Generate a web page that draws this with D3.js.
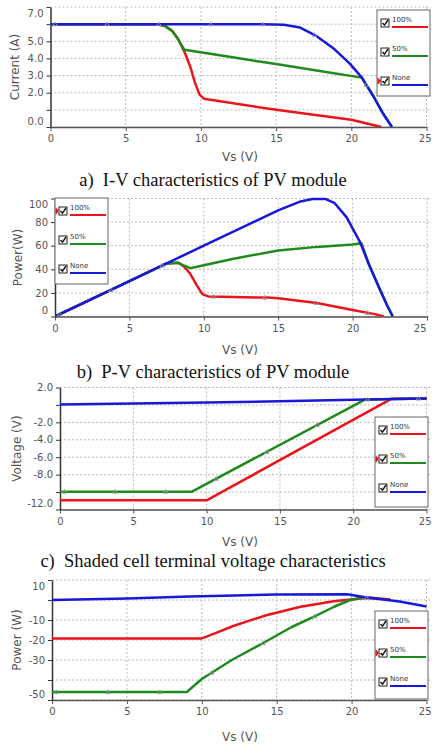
<!DOCTYPE html>
<html><head><meta charset="utf-8">
<script src="https://cdn.jsdelivr.net/npm/d3@7"></script>
<style>body{margin:0;background:#fff} svg{display:block}</style>
</head><body><svg id="c" width="432" height="747"></svg>
<script>
// ---------- data ----------
const seriesNames = ["100%", "50%", "None"];
const seriesColors = ["#e8161c", "#1f8a1f", "#1818d8"];
const vsTicks = [0, 5, 10, 15, 20, 25];
const markerVs = [0.3, 3.75, 7.2, 10.65, 14.1, 17.55, 21.0, 24.45];

// a) I-V : [Vs, I]
const ivFull = [[0,6.0],[7.0,6.0],[7.6,5.9],[8.1,5.6],[8.5,5.1],[8.9,4.4],[9.3,3.5],[9.6,2.6],[9.9,1.9],[10.2,1.65],[15,1.0],[20,0.42],[22.0,0]];
const ivHalf = [[0,6.0],[7.0,6.0],[7.6,5.9],[8.1,5.6],[8.5,5.1],[8.9,4.5],[12,4.08],[15,3.67],[18,3.25],[20.7,2.88],[21.5,1.75],[22.1,0.8],[22.7,0]];
const ivNone = [[0,6.0],[14,6.0],[15.5,5.97],[16.6,5.8],[17.7,5.3],[18.8,4.6],[19.9,3.7],[20.7,2.88],[21.5,1.75],[22.1,0.8],[22.7,0]];
const ivGrid = [0,1,2,3,4,5,6,7];
const ivLabels = [0,2,3,4,5,7];

// b) P-V : [Vs, P]
const pvFull = [[0,0],[5,30],[7.5,45],[8.3,45.5],[8.7,42],[9.1,36],[9.5,27],[9.9,19],[10.3,17],[12,16.5],[14.3,16],[15,15.5],[17.6,11.5],[20,5.5],[21.5,2],[22.1,0]];
const pvHalf = [[0,0],[5,30],[7.5,45],[8.3,45.5],[8.7,43],[9.1,41],[10,43.5],[12,49],[15,56],[17.6,59],[20,61],[20.6,62],[21.1,44],[21.8,24],[22.3,10],[22.7,0]];
const pvNone = [[0,0],[5,30],[10,60],[15,90],[16.5,97.5],[17.3,99.5],[18.2,99.5],[18.8,96],[19.6,84],[20.5,63],[21.1,44],[21.8,24],[22.3,10],[22.7,0]];
const pvGrid = [0,20,40,60,80,100];
const pvLabels = [0,20,40,60,80,100];

// c) shaded cell terminal voltage : [Vs, V]
const vcFull = [[0,-10.95],[10.0,-10.95],[22.6,0.7],[25,0.75]];
const vcHalf = [[0,-9.95],[9.0,-9.95],[20.8,0.62],[25,0.75]];
const vcNone = [[0,0.05],[5,0.15],[10,0.28],[15,0.42],[20,0.58],[25,0.75]];
const vcGrid = [2,0,-2,-4,-6,-8,-10,-12];
const vcLabels = [2,-2,-4,-6,-8,-12];

// d) shaded cell power : [Vs, P]
const pcFull = [[0,-19.2],[10,-19.2],[11,-16.3],[12.1,-13.0],[14.3,-7.6],[16.6,-3.4],[18.8,-0.6],[20.6,0.8],[21.5,1.0],[22.6,0.3]];
const pcHalf = [[0,-46],[9.0,-46],[10,-39.5],[12,-30],[14.1,-21.5],[16,-13.5],[17.5,-8.3],[18.8,-3.5],[19.9,0],[20.8,1.2],[21.5,1.0]];
const pcNone = [[0,0],[5,0.8],[9.2,1.7],[15,2.8],[19.7,2.9],[21,1.3],[23.2,-0.8],[25,-3.3]];
const pcGrid = [10,0,-10,-20,-30,-40,-50];
const pcLabels = [10,-10,-20,-30,-50];

const captions = [
  "a)  I-V characteristics of PV module",
  "b)  P-V characteristics of PV module",
  "c)  Shaded cell terminal voltage characteristics",
  ""
];
const yTitles = ["Current (A)", "Power(W)", "Voltage (V)", "Power (W)"];
const xTitle = "Vs (V)";

// ---------- layout ----------
const panels = [
  {x0:50.5, x1:426.5, yTop:7, yBot:127, domain:[0,7], grid:ivGrid, labels:ivLabels, fmt:v=>v.toFixed(1),
   series:[ivFull,ivHalf,ivNone], titleX:15, xTitleY:161, capY:186, legend:{x:377,y:10,h:86,sel:2}},
  {x0:55, x1:427, yTop:198.5, yBot:316.5, domain:[0,100], grid:pvGrid, labels:pvLabels, fmt:v=>String(v),
   series:[pvFull,pvHalf,pvNone], titleX:18, xTitleY:354, capY:378, legend:{x:55,y:198,h:86,sel:0}},
  {x0:60, x1:426.5, yTop:387.5, yBot:509.5, domain:[-12,2], grid:vcGrid, labels:vcLabels, fmt:v=>v.toFixed(1),
   series:[vcFull,vcHalf,vcNone], titleX:17, xTitleY:546, capY:567, legend:{x:375,y:417,h:90,sel:1}},
  {x0:52, x1:426.5, yTop:580, yBot:700, domain:[-50,10], grid:pcGrid, labels:pcLabels, fmt:v=>String(v),
   series:[pcFull,pcHalf,pcNone], titleX:17, xTitleY:741, capY:null, legend:{x:375,y:611,h:88,sel:1}}
];

const svg = d3.select("#c");
const tickFont = "DejaVu Sans, sans-serif";

function interpAt(series, v) {
  for (let j = 1; j < series.length; j++) {
    const a = series[j-1], b = series[j];
    if (v >= a[0] && v <= b[0]) return a[1] + (b[1]-a[1]) * (v - a[0]) / (b[0] - a[0]);
  }
  return null;
}

panels.forEach((p, i) => {
  const g = svg.append("g");
  const x = d3.scaleLinear().domain([0,25]).range([p.x0, p.x1]);
  const y = d3.scaleLinear().domain(p.domain).range([p.yBot, p.yTop]);
  const right = 431;

  // grid
  g.append("g").selectAll("line").data(p.grid).join("line")
    .attr("x1", p.x0).attr("x2", right).attr("y1", d=>y(d)).attr("y2", d=>y(d))
    .attr("stroke", "#b8b8b8").attr("stroke-width", 1).attr("stroke-dasharray", "2,2");
  g.append("g").selectAll("line").data(vsTicks.filter(d=>d>0)).join("line")
    .attr("x1", d=>x(d)).attr("x2", d=>x(d)).attr("y1", p.yTop).attr("y2", p.yBot)
    .attr("stroke", "#b8b8b8").attr("stroke-width", 1).attr("stroke-dasharray", "2,2");

  // axes
  const xa = g.append("g").attr("transform", `translate(0,${p.yBot})`)
    .call(d3.axisBottom(x).tickValues(vsTicks).tickSize(4).tickSizeOuter(0).tickPadding(4));
  xa.select(".domain").attr("stroke", "#555").attr("stroke-width", 1.5);
  xa.selectAll(".tick line").attr("stroke", "#555");
  xa.selectAll("text").attr("font-family", tickFont).attr("font-size", 10).attr("fill", "#555")
    .attr("text-anchor", d => d === 25 ? "end" : "middle")
    .attr("dx", d => d === 25 ? 6 - Math.max(0, x(25) + 6 - 431) - (i === 1 ? 5 : 0) : 0);

  const yg = g.append("g").attr("transform", `translate(${p.x0},0)`)
    .call(d3.axisLeft(y).tickValues(p.grid).tickSize(4).tickSizeOuter(0).tickFormat(""));
  yg.select(".domain").attr("stroke", "#333").attr("stroke-width", 1.5);
  yg.selectAll(".tick line").attr("stroke", "#333");

  const yl = g.append("g").attr("transform", `translate(${p.x0},0)`)
    .call(d3.axisLeft(y).tickValues(p.labels).tickSize(0).tickPadding(7).tickFormat(p.fmt));
  yl.select(".domain").remove();
  yl.selectAll("text").attr("font-family", tickFont).attr("font-size", 10).attr("fill", "#555")
    .attr("transform", d => d === p.domain[0] ? "translate(0,-6)" : (d === p.domain[1] && i !== 2 ? "translate(0,6)" : null));

  // lines
  const clipId = "clip" + i;
  svg.append("clipPath").attr("id", clipId).append("rect")
    .attr("x", p.x0).attr("y", p.yTop - 2).attr("width", right - p.x0).attr("height", p.yBot - p.yTop + 2);
  const line = d3.line().x(d=>x(d[0])).y(d=>y(d[1]));
  const lg0 = g.append("g").attr("clip-path", `url(#${clipId})`);
  lg0.selectAll("path").data(p.series).join("path")
    .attr("d", line).attr("fill", "none")
    .attr("stroke", (d,k)=>seriesColors[k]).attr("stroke-width", 2.5).attr("stroke-linejoin", "round");

  // small markers on the selected series
  const sel = p.series[p.legend.sel];
  const mk = markerVs.map(v => [v, interpAt(sel, v)]).filter(d => d[1] !== null);
  lg0.selectAll("path.mk").data(mk).join("path").attr("class", "mk")
    .attr("d", d => `M${x(d[0])-2.2},${y(d[1])+1.6} L${x(d[0])},${y(d[1])-2.2} L${x(d[0])+2.2},${y(d[1])+1.6}Z`)
    .attr("fill", "none").attr("stroke", "#9a9a9a").attr("stroke-width", 0.9);

  // titles
  g.append("text").attr("transform", `translate(${p.titleX},${(p.yTop+p.yBot)/2}) rotate(-90)`)
    .attr("text-anchor", "middle").attr("dominant-baseline", "middle")
    .attr("font-family", tickFont).attr("font-size", 12).attr("fill", "#555").text(yTitles[i]);
  g.append("text").attr("x", 240).attr("y", p.xTitleY).attr("text-anchor", "middle")
    .attr("font-family", tickFont).attr("font-size", 12).attr("fill", "#555").text(xTitle);
  if (p.capY) {
    g.append("text").attr("x", 213).attr("y", p.capY).attr("text-anchor", "middle")
      .attr("font-family", "Liberation Serif, serif").attr("font-size", 18.5).attr("fill", "#111")
      .style("white-space", "pre").text(captions[i]);
  }

  // legend
  const L = p.legend, lw = 53;
  const lg = g.append("g").attr("transform", `translate(${L.x},${L.y})`);
  lg.append("rect").attr("width", lw).attr("height", L.h).attr("fill", "#fff")
    .attr("stroke", "#666").attr("stroke-width", 1);
  const offs = [17, 46, 75];
  seriesNames.forEach((nm, k) => {
    const ly = offs[k];
    lg.append("rect").attr("x", 4).attr("y", ly - 8).attr("width", 8).attr("height", 8)
      .attr("fill", "#fff").attr("stroke", "#222").attr("stroke-width", 1);
    lg.append("path").attr("d", `M${5.5},${ly-4} L${7.5},${ly-1.8} L${11},${ly-7}`)
      .attr("fill", "none").attr("stroke", "#111").attr("stroke-width", 1.4);
    lg.append("text").attr("x", 15).attr("y", ly - 5).attr("font-family", tickFont)
      .attr("font-size", 7).attr("fill", "#333").text(nm);
    lg.append("line").attr("x1", 15).attr("x2", lw - 2).attr("y1", ly).attr("y2", ly)
      .attr("stroke", seriesColors[k]).attr("stroke-width", 2);
    if (k === L.sel) {
      lg.append("path").attr("d", `M0.5,${ly-8} L4,${ly-4} L0.5,${ly}Z`).attr("fill", "#e8161c");
    }
  });
});
</script></body></html>
